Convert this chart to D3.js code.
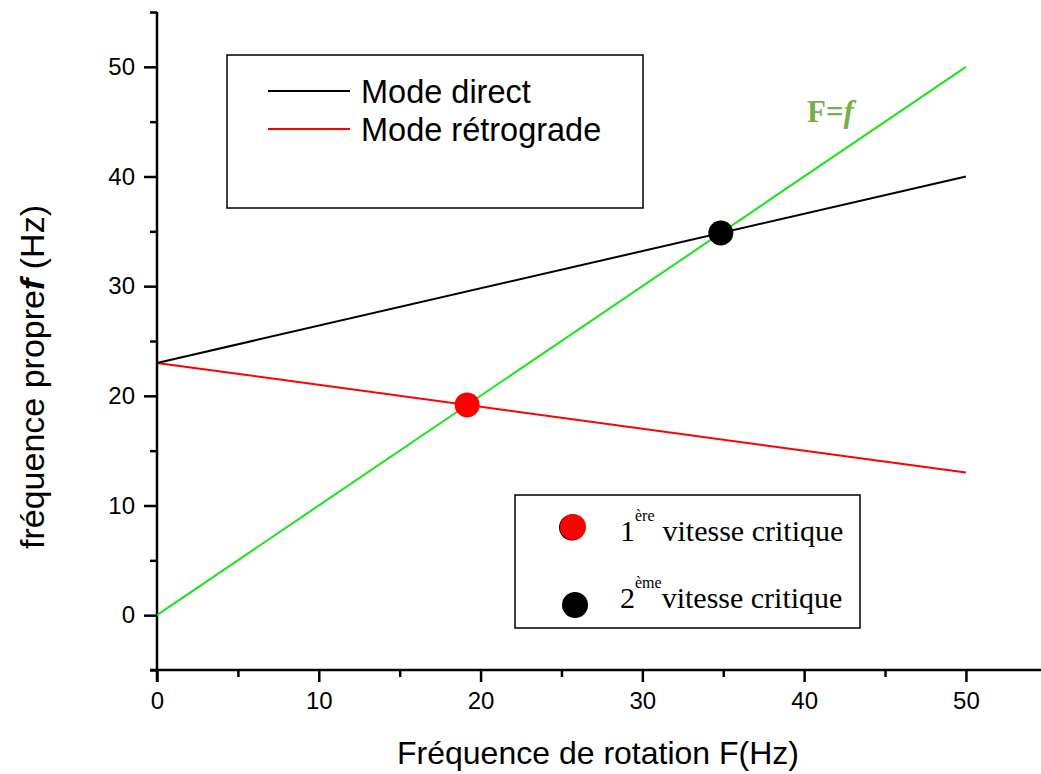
<!DOCTYPE html>
<head>
	<script src="https://d3js.org/d3.v7.min.js"></script>
	<style>
		body { margin: 0; background: #fff; }
		.tick text { font-family: "Liberation Sans", Arial; font-size: 24px; fill: #000; }
		.label { font-family: "Liberation Sans", Arial; font-size: 32px; fill: #000; }
		.leg { font-family: "Liberation Sans", Arial; font-size: 32.5px; fill: #000; }
		.serif { font-family: "Liberation Serif", "Times New Roman"; font-size: 30px; fill: #000; }
	</style>
</head>
<body>
	<script>
		// data
		var freqRot = [0, 50];            // F (Hz)
		var modeDirect = [23, 40];        // f, mode direct
		var modeRetro = [23, 13];         // f, mode retrograde
		var lineFf = [0, 50];             // F = f
		var critNames = ["1", "2"];
		var critSup = ["ère", "ème"];
		var critF = [19.17, 34.85];       // critical speeds (on F=f)
		var critColors = ["#ff0000", "#000000"];
		var xTicks = [0, 10, 20, 30, 40, 50];
		var yTicks = [0, 10, 20, 30, 40, 50];

		var width = 1041, height = 774;
		var svg = d3.select("body").append("svg")
			.attr("width", width)
			.attr("height", height);

		// scales
		var x = d3.scaleLinear().domain([0, 54.64]).range([157, 1041]);
		var y = d3.scaleLinear().domain([-5, 55]).range([670, 12]);

		// axes
		var xAxis = d3.axisBottom(x)
			.tickValues(d3.range(0, 55, 5))
			.tickSize(12)
			.tickPadding(10)
			.tickFormat(d => xTicks.indexOf(d) >= 0 ? d : "");
		var gx = svg.append("g")
			.attr("transform", "translate(0," + y(-5) + ")")
			.call(xAxis);
		gx.selectAll(".tick line").attr("y2", d => d % 10 ? 7 : 12);

		var yAxis = d3.axisLeft(y)
			.tickValues(d3.range(-5, 60, 5))
			.tickSize(13)
			.tickPadding(9)
			.tickFormat(d => yTicks.indexOf(d) >= 0 ? d : "");
		var gy = svg.append("g")
			.attr("transform", "translate(" + x(0) + ",0)")
			.call(yAxis);
		gy.selectAll(".tick line").attr("x2", d => d % 10 ? -7 : -13);

		svg.selectAll(".domain, .tick line")
			.attr("stroke", "#000")
			.attr("stroke-width", 2.5);
		gx.select(".domain").attr("d", "M" + (x(0) - 7) + ",0H1041");
		gy.select(".domain").attr("d", "M0," + y(55) + "V" + (y(-5) + 12));

		// lines
		var line = d3.line().x(d => x(d[0])).y(d => y(d[1]));
		var series = [
			{ vals: lineFf, color: "#19e619" },
			{ vals: modeRetro, color: "#ff0000" },
			{ vals: modeDirect, color: "#000000" }
		];
		svg.selectAll(".series")
			.data(series)
			.enter()
			.append("path")
			.attr("d", s => line(freqRot.map((F, i) => [F, s.vals[i]])))
			.attr("fill", "none")
			.attr("stroke", s => s.color)
			.attr("stroke-width", 2);

		// critical points
		svg.selectAll(".crit")
			.data(critF)
			.enter()
			.append("circle")
			.attr("cx", d => x(d))
			.attr("cy", d => y(d))
			.attr("r", 12.5)
			.attr("fill", (d, i) => critColors[i]);

		// F=f label
		var ff = svg.append("text")
			.attr("x", 807)
			.attr("y", 122)
			.attr("font-family", "Liberation Serif")
			.attr("font-size", 31)
			.attr("font-weight", "bold")
			.attr("fill", "#77ad4a");
		ff.append("tspan").text("F=");
		ff.append("tspan").attr("font-style", "italic").text("f");

		// legend 1
		svg.append("rect")
			.attr("x", 227).attr("y", 55)
			.attr("width", 416).attr("height", 153)
			.attr("fill", "none").attr("stroke", "#000").attr("stroke-width", 1.5);
		var leg1 = [{ t: "Mode direct", c: "#000000" }, { t: "Mode rétrograde", c: "#ff0000" }];
		leg1.forEach(function(d, i) {
			var yy = 91 + i * 38;
			svg.append("line")
				.attr("x1", 268).attr("x2", 350)
				.attr("y1", yy).attr("y2", yy)
				.attr("stroke", d.c).attr("stroke-width", 2);
			svg.append("text")
				.attr("class", "leg")
				.attr("x", 361).attr("y", yy + 12)
				.text(d.t);
		});

		// legend 2
		svg.append("rect")
			.attr("x", 515).attr("y", 495)
			.attr("width", 345).attr("height", 133)
			.attr("fill", "none").attr("stroke", "#000").attr("stroke-width", 1.5);
		critNames.forEach(function(n, i) {
			var yy = 541 + i * 67;
			var cx = 573 + i * 2, cy = yy - 14 + i * 11;
			if (i === 0) {
				svg.append("circle")
					.attr("cx", cx - 1).attr("cy", cy + 0.5)
					.attr("r", 13).attr("fill", "#000");
			}
			svg.append("circle")
				.attr("cx", cx).attr("cy", cy)
				.attr("r", 13)
				.attr("fill", critColors[i]);
			var t = svg.append("text")
				.attr("class", "serif")
				.attr("x", 620).attr("y", yy);
			t.append("tspan").text(n);
			t.append("tspan").attr("font-size", 16).attr("dy", -20).text(critSup[i]);
			t.append("tspan").attr("dy", 20)
				.attr("dx", i === 0 ? 8 : 0)
				.text("vitesse critique");
		});

		// axis titles
		svg.append("text")
			.attr("class", "label")
			.attr("x", 598).attr("y", 764)
			.attr("text-anchor", "middle")
			.text("Fréquence de rotation F(Hz)");

		var yl = svg.append("text")
			.attr("class", "label")
			.attr("font-size", 34)
			.style("font-size", "34px")
			.attr("transform", "translate(44,377) rotate(-90)")
			.attr("text-anchor", "middle");
		yl.append("tspan").text("fréquence propre");
		yl.append("tspan").attr("font-weight", "bold").attr("font-style", "italic").text("f");
		yl.append("tspan").text(" (Hz)");
	</script>
</body>
</html>
